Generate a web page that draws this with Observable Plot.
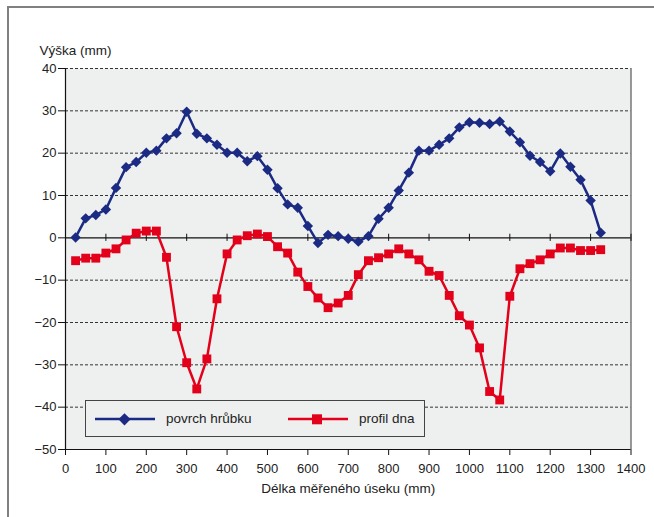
<!DOCTYPE html>
<html><head><meta charset="utf-8">
<script src="https://cdn.jsdelivr.net/npm/d3@7"></script>
<script src="https://cdn.jsdelivr.net/npm/@observablehq/plot@0.6"></script>
<style>
body{margin:0;background:#fff;overflow:hidden;}
#wrap{position:relative;width:654px;height:517px;overflow:hidden;background:#fff;font-family:"Liberation Sans",Arial,sans-serif;color:#222;}
#border{position:absolute;left:7px;top:6px;width:800px;height:800px;border:2px solid #808080;box-sizing:border-box;}
#chart{position:absolute;left:0;top:0;}
#legend{position:absolute;left:85px;top:400px;width:340px;height:37px;box-sizing:border-box;border:1px solid #444;background:#eef0ef;font-size:13.5px;}
#legend .it{position:absolute;top:0;height:35px;display:flex;align-items:center;}
#legend svg{display:block;}
</style></head>
<body>
<div id="wrap">
  <div id="border"></div>
  <div id="chart"></div>
  <div id="legend"></div>
</div>
<script>
const positions = [25,50,75,100,125,150,175,200,225,250,275,300,325,350,375,400,425,450,475,500,525,550,575,600,625,650,675,700,725,750,775,800,825,850,875,900,925,950,975,1000,1025,1050,1075,1100,1125,1150,1175,1200,1225,1250,1275,1300,1325];
const povrch = [0.1,4.6,5.4,6.7,11.8,16.7,17.9,20.1,20.6,23.5,24.7,29.8,24.6,23.5,22.0,20.1,20.1,18.1,19.3,16.1,11.7,7.9,7.1,2.8,-1.2,0.7,0.4,-0.2,-0.9,0.4,4.5,7.1,11.2,15.4,20.6,20.6,22.0,23.5,26.1,27.3,27.2,26.9,27.5,25.1,22.6,19.4,17.9,15.7,19.9,16.8,13.7,8.8,1.2];
const profil = [-5.4,-4.8,-4.8,-3.6,-2.6,-0.5,1.1,1.6,1.6,-4.6,-21.0,-29.5,-35.7,-28.6,-14.4,-3.8,-0.5,0.5,0.9,0.3,-2.1,-3.6,-8.1,-11.5,-14.2,-16.5,-15.4,-13.6,-8.7,-5.4,-4.7,-3.8,-2.6,-3.8,-5.2,-7.9,-8.9,-13.6,-18.4,-20.6,-26.0,-36.3,-38.3,-13.8,-7.3,-6.1,-5.2,-3.8,-2.4,-2.4,-3.0,-3.0,-2.8];
const seriesNames = ["povrch hrůbku", "profil dna"];
const seriesColors = ["#1b2a83", "#e2001a"];
const xTicks = [0,100,200,300,400,500,600,700,800,900,1000,1100,1200,1300,1400];
const yTicks = [-50,-40,-30,-20,-10,0,10,20,30,40];
const gridY = [-40,-30,-20,-10,10,20,30,40];
const yTitle = "Výška (mm)";
const xTitle = "Délka měřeného úseku (mm)";

const blue = positions.map((x,i)=>({x, y: povrch[i]}));
const red = positions.map((x,i)=>({x, y: profil[i]}));
const font = '"Liberation Sans",Arial,sans-serif';

const chart = Plot.plot({
  width: 654, height: 517,
  marginLeft: 65, marginRight: 23.5, marginTop: 68, marginBottom: 68,
  style: {fontFamily: font, fontSize: "13px", color: "#222", background: "transparent"},
  x: {domain: [0,1400]},
  y: {domain: [-50,40]},
  marks: [
    Plot.frame({fill: "#eef0ef", stroke: null}),
    Plot.ruleY(gridY, {stroke: "#333", strokeDasharray: "3,2", strokeWidth: 1}),
    Plot.ruleX([1400], {stroke: "#777", strokeWidth: 1.5}),
    Plot.ruleY([0], {stroke: "#111", strokeWidth: 1.2}),
    Plot.ruleX(xTicks.slice(1), {y1: -0.85, y2: 0.85, stroke: "#111", strokeWidth: 1}),
    Plot.ruleY([-50], {stroke: "#111", strokeWidth: 1.2}),
    Plot.ruleX([0], {stroke: "#111", strokeWidth: 1.2}),
    Plot.axisX({ticks: xTicks, tickSize: 6, tickPadding: 8, label: null, fontSize: 13, stroke: "#111", tickFormat: d => String(d)}),
    Plot.axisY({ticks: yTicks, tickSize: 7, tickPadding: 2, label: null, fontSize: 13, stroke: "#111", tickFormat: d => d < 0 ? "\u2212" + Math.abs(d) : String(d)}),
    Plot.line(blue, {x: "x", y: "y", stroke: seriesColors[0], strokeWidth: 2.5}),
    Plot.dot(blue, {x: "x", y: "y", symbol: "diamond2", r: 4.7, fill: seriesColors[0], stroke: null}),
    Plot.line(red, {x: "x", y: "y", stroke: seriesColors[1], strokeWidth: 2.5}),
    Plot.dot(red, {x: "x", y: "y", symbol: "square", r: 5, fill: seriesColors[1], stroke: null}),
    Plot.text([yTitle], {frameAnchor: "top-left", dx: -26, dy: -23, text: d => d, textAnchor: "start", fontSize: 13.5, fill: "#222"}),
    Plot.text([xTitle], {frameAnchor: "bottom", dy: 43, text: d => d, fontSize: 13.5, fill: "#222"})
  ]
});
document.getElementById("chart").appendChild(chart);

// legend
const leg = document.getElementById("legend");
const items = [
  {left: 8, name: seriesNames[0], color: seriesColors[0], sym: "diamond"},
  {left: 201, name: seriesNames[1], color: seriesColors[1], sym: "square"}
];
items.forEach(it => {
  const d = document.createElement("div");
  d.className = "it";
  d.style.left = it.left + "px";
  const marker = it.sym === "diamond"
    ? `<path d="M30.5 12.2 L36.6 18.3 L30.5 24.4 L24.4 18.3 Z" fill="${it.color}"/>`
    : `<rect x="25" y="13.3" width="10" height="10" fill="${it.color}"/>`;
  d.innerHTML = `<svg width="62" height="35"><line x1="1" x2="61" y1="18" y2="18" stroke="${it.color}" stroke-width="2.5"/>${marker}</svg><span style="margin-left:10px">${it.name}</span>`;
  leg.appendChild(d);
});
</script>
</body></html>
